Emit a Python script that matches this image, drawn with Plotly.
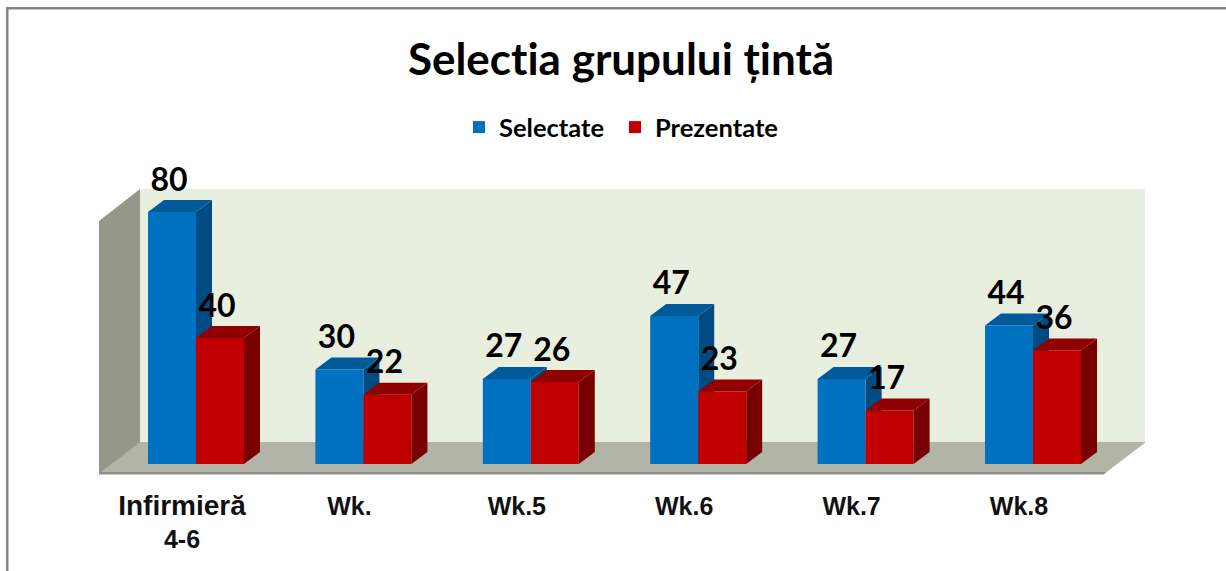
import plotly.graph_objects as go

W, H = 1226, 571
categories = ["<span style=\"font-size:28px\">Infirmieră</span><br>4-6", "Wk.", "Wk.5", "Wk.6", "Wk.7", "Wk.8"]
selectate = [80, 30, 27, 47, 27, 44]
prezentate = [40, 22, 26, 23, 17, 36]
TITLE = "Selectia grupului țintă"

# chart geometry (pixels on the page)
X0, STEP = 196.0, 167.4     # centre of first group, distance between groups
Y0, PX_PER_UNIT = 464.0, 3.15
BAR = 48.0 / STEP           # bar width in category units
DX, DY = 16.0 / STEP, 12.0 / PX_PER_UNIT   # depth of the 3-D look in axis units

idx = list(range(len(categories)))

def px(x, y):
    return x / W, 1 - y / H

def poly(points):
    out = []
    for i, (x, y) in enumerate(points):
        a, b = px(x, y)
        out.append(("M" if i == 0 else "L") + f"{a:.5f},{b:.5f}")
    return " ".join(out) + " Z"

def faces(values, left):
    """Top and side faces of the bars, in axis units."""
    tx, ty, sx, sy = [], [], [], []
    for i, v in zip(idx, values):
        l, r = i + left, i + left + BAR
        tx += [l, l + DX, r + DX, r, l, None]
        ty += [v, v + DY, v + DY, v, v, None]
        sx += [r, r + DX, r + DX, r, r, None]
        sy += [v, v + DY, DY, 0, v, None]
    return tx, ty, sx, sy

def face_trace(x, y, color, z):
    return go.Scatter(x=x, y=y, mode="lines", fill="toself", fillcolor=color,
                      line=dict(width=0, color=color), showlegend=False,
                      hoverinfo="skip", zorder=z)

fig = go.Figure()

bt, by, bsx, bsy = faces(selectate, -BAR)
rt, ry, rsx, rsy = faces(prezentate, 0)

fig.add_trace(face_trace(bsx, bsy, "#004C82", 1))
fig.add_trace(face_trace(bt, by, "#005A9A", 1))
fig.add_trace(go.Bar(x=idx, y=selectate, name="Selectate", marker=dict(color="#0070C0", line=dict(width=0)),
                     zorder=2, legend="legend"))
fig.add_trace(go.Bar(x=idx, y=prezentate, name="Prezentate", marker=dict(color="#C00000", line=dict(width=0)),
                     zorder=2, legend="legend2"))
fig.add_trace(face_trace(rsx, rsy, "#780000", 3))
fig.add_trace(face_trace(rt, ry, "#900000", 3))

LABEL_DY = 29.5 / PX_PER_UNIT
LABEL_DX = 3.0 / STEP
for values, left in ((selectate, -BAR / 2), (prezentate, BAR / 2)):
    fig.add_trace(go.Scatter(
        x=[i + left - LABEL_DX for i in idx],
        y=[v + LABEL_DY for v in values],
        text=[str(v) for v in values],
        mode="text", textposition="middle center",
        textfont=dict(family="Lato", size=32, color="#000000", weight="bold"),
        showlegend=False, hoverinfo="skip", zorder=4, cliponaxis=False))

shapes = [
    dict(type="path", path=poly([(140, 189), (1145, 189), (1145, 443), (140, 443)]),
         xref="paper", yref="paper", fillcolor="#E9EFDF", line=dict(width=0), layer="below"),
    dict(type="path", path=poly([(99, 221), (140, 189), (140, 443), (99, 474)]),
         xref="paper", yref="paper", fillcolor="#95978B", line=dict(width=0), layer="below"),
    dict(type="path", path=poly([(99, 474), (140, 442), (1146, 442), (1104, 474)]),
         xref="paper", yref="paper", fillcolor="#B1B4A6", line=dict(width=0), layer="below"),
    dict(type="path", path=poly([(99, 472), (1106, 472), (1104, 474.5), (99, 474.5)]),
         xref="paper", yref="paper", fillcolor="#8E9088", line=dict(width=0), layer="below"),
    dict(type="path", path=poly([(6, 7), (1226, 7), (1226, 9.5), (6, 9.5)]),
         xref="paper", yref="paper", fillcolor="#848484", line=dict(width=0), layer="below"),
    dict(type="path", path=poly([(6, 7), (8.5, 7), (8.5, 571), (6, 571)]),
         xref="paper", yref="paper", fillcolor="#848484", line=dict(width=0), layer="below"),
]

LEGEND_FONT = dict(family="Lato", size=25.5, color="#000000", weight="bold")
LABEL_SHIFT = 14.0 / STEP
fig.update_layout(
    width=W, height=H, margin=dict(l=0, r=0, t=0, b=0),
    paper_bgcolor="#FFFFFF", plot_bgcolor="rgba(0,0,0,0)",
    barmode="group", bargap=1 - 2 * BAR, bargroupgap=0,
    title=dict(text=TITLE, x=621 / W, xanchor="center", y=1 - 60 / H, yanchor="middle",
               font=dict(family="Lato", size=44, color="#000000", weight="bold")),
    legend=dict(orientation="h", x=459 / W, xanchor="left", y=1 - 127.5 / H, yanchor="middle",
                font=LEGEND_FONT, bgcolor="rgba(0,0,0,0)"),
    legend2=dict(orientation="h", x=615 / W, xanchor="left", y=1 - 127.5 / H, yanchor="middle",
                 font=LEGEND_FONT, bgcolor="rgba(0,0,0,0)"),
    xaxis=dict(range=[(0 - X0) / STEP, (W - X0) / STEP], showgrid=False, zeroline=False, showline=False,
               tickmode="array", tickvals=[i - LABEL_SHIFT for i in idx], ticktext=categories,
               ticks="", anchor="free", position=1 - 489 / H,
               tickfont=dict(family="Liberation Sans", size=25, color="#111111", weight="bold")),
    yaxis=dict(range=[(Y0 - H) / PX_PER_UNIT, Y0 / PX_PER_UNIT], visible=False, showgrid=False, zeroline=False),
    shapes=shapes,
    showlegend=True,
)

fig.write_html(
    "out.html",
    config={"displayModeBar": False},
    post_script="document.body.style.margin='0';"
                "document.head.insertAdjacentHTML('beforeend','<style>svg text{font-variant-ligatures:none !important;"
                "font-feature-settings:\"liga\" 0,\"clig\" 0,\"dlig\" 0 !important}</style>');",
)
